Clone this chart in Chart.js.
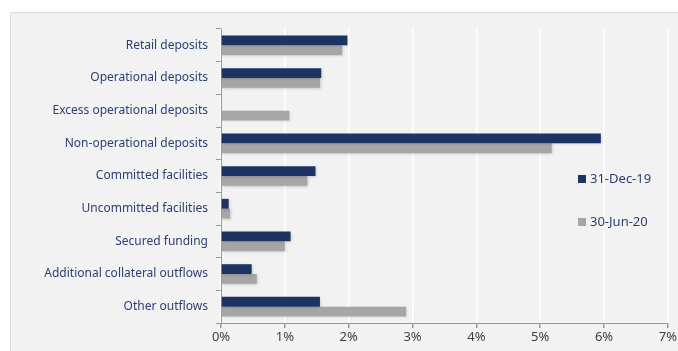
<!DOCTYPE html>
<html>
<head>
<meta charset="utf-8">
<script src="https://cdn.jsdelivr.net/npm/chart.js@4"></script>
<style>
  html, body { margin: 0; padding: 0; background: #ffffff; }
  #wrap { width: 678px; height: 351px; }
</style>
</head>
<body>
<div id="wrap"><canvas id="outflows"></canvas></div>
<script>
// categories and values (% of total)
const categories = [
  'Retail deposits',
  'Operational deposits',
  'Excess operational deposits',
  'Non-operational deposits',
  'Committed facilities',
  'Uncommitted facilities',
  'Secured funding',
  'Additional collateral outflows',
  'Other outflows'
];
const dec19 = [1.98, 1.57, 0, 5.95, 1.48, 0.12, 1.09, 0.48, 1.55];
const jun20 = [1.90, 1.55, 1.07, 5.18, 1.35, 0.14, 1.00, 0.56, 2.90];
const seriesNames = ['31-Dec-19', '30-Jun-20'];
const xTicks = [0, 1, 2, 3, 4, 5, 6, 7];

const navy = '#1c3363';
const grey = '#a6a6a6';
const labelColor = '#2c3f72';

// grey panel behind the chart
const panelBg = {
  id: 'panelBg',
  beforeDraw(chart) {
    const ctx = chart.ctx;
    ctx.save();
    ctx.fillStyle = '#f2f2f2';
    ctx.fillRect(10, 12, chart.width - 10, chart.height - 12);
    ctx.strokeStyle = '#dcdcdc';
    ctx.lineWidth = 1;
    ctx.beginPath();
    ctx.moveTo(10.5, chart.height);
    ctx.lineTo(10.5, 12.5);
    ctx.lineTo(chart.width, 12.5);
    ctx.stroke();
    ctx.restore();
  }
};

// soft shadow under the bars
const barShadow = {
  id: 'barShadow',
  beforeDatasetsDraw(chart) {
    const ctx = chart.ctx;
    ctx.save();
    ctx.shadowColor = 'rgba(0,0,0,0.18)';
    ctx.shadowBlur = 3;
    ctx.shadowOffsetX = 1;
    ctx.shadowOffsetY = 1;
  },
  afterDatasetsDraw(chart) {
    chart.ctx.restore();
  }
};

// legend sits inside the plot on the right
const sideLegend = {
  id: 'sideLegend',
  afterDraw(chart) {
    const ctx = chart.ctx;
    const x = 578, ys = [179, 222];
    ctx.save();
    ctx.font = '13px "Noto Sans", sans-serif';
    ctx.textBaseline = 'middle';
    chart.data.datasets.forEach((ds, i) => {
      ctx.fillStyle = ds.backgroundColor;
      ctx.fillRect(x, ys[i] - 4, 8, 8);
      ctx.fillStyle = labelColor;
      ctx.fillText(ds.label, x + 12, ys[i]);
    });
    ctx.restore();
  }
};

new Chart(document.getElementById('outflows'), {
  type: 'bar',
  data: {
    labels: categories,
    datasets: [
      { label: seriesNames[0], data: dec19, backgroundColor: navy },
      { label: seriesNames[1], data: jun20, backgroundColor: grey }
    ]
  },
  options: {
    indexAxis: 'y',
    responsive: true,
    maintainAspectRatio: false,
    animation: false,
    layout: { padding: { top: 29, right: 8, bottom: 0, left: 0 } },
    datasets: {
      bar: { categoryPercentage: 0.6, barPercentage: 1.0 }
    },
    plugins: {
      legend: { display: false },
      tooltip: { enabled: false }
    },
    scales: {
      x: {
        min: 0,
        max: 7,
        afterBuildTicks(scale) {
          scale.ticks = xTicks.map(v => ({ value: v }));
        },
        afterFit(scale) { scale.height = 28; },
        grid: {
          color: '#ffffff',
          lineWidth: 1.5,
          tickColor: '#9a9a9a',
          tickLength: 5
        },
        border: { color: '#9a9a9a' },
        ticks: {
          color: '#404040',
          font: { family: '"Noto Sans", sans-serif', size: 13 },
          padding: 1,
          callback: v => v + '%'
        }
      },
      y: {
        afterFit(scale) { scale.width = 221; },
        grid: {
          drawOnChartArea: false,
          tickColor: '#9a9a9a',
          tickLength: 5
        },
        border: { color: '#9a9a9a' },
        ticks: {
          color: labelColor,
          font: { family: '"Noto Sans", sans-serif', size: 12 },
          padding: 8
        }
      }
    }
  },
  plugins: [panelBg, barShadow, sideLegend]
});
</script>
</body>
</html>
